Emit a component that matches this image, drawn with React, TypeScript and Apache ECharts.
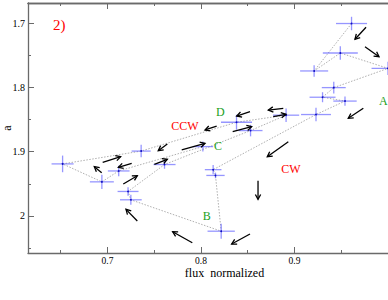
import React, { useEffect, useRef } from "react";
import * as echarts from "echarts";

// Measurements in time order (flux normalized, a) with error half-widths
const flux = [0.961, 0.921, 0.949, 1.0, 0.942, 0.93, 0.954, 0.923, 0.813, 0.8155, 0.8216, 0.725, 0.722, 0.761, 0.853, 0.891, 0.838, 0.736, 0.652, 0.694, 0.712, 0.802];
const aVal = [1.7, 1.774, 1.746, 1.77, 1.8, 1.815, 1.821, 1.842, 1.928, 1.937, 2.024, 1.975, 1.962, 1.92, 1.867, 1.843, 1.854, 1.899, 1.919, 1.947, 1.93, 1.892];
const fluxErr = [0.0166, 0.015, 0.0187, 0.0176, 0.0128, 0.0139, 0.0125, 0.016, 0.0089, 0.0098, 0.0146, 0.0116, 0.0112, 0.0118, 0.0128, 0.014, 0.0166, 0.0102, 0.0118, 0.0128, 0.0116, 0.011];
const aErr = [0.0105, 0.009, 0.0105, 0.0105, 0.009, 0.0078, 0.0073, 0.0105, 0.0073, 0.0044, 0.0117, 0.0078, 0.0066, 0.0066, 0.009, 0.0105, 0.0117, 0.0098, 0.013, 0.0112, 0.0083, 0.0078];

// Direction arrows (tail -> head)
const arrowX0 = [0.9765, 0.9754, 0.9736, 0.8934, 0.861, 0.8524, 0.7907, 0.7319, 0.7169, 0.7501, 0.6938, 0.6949, 0.7259, 0.764, 0.7794, 0.8524, 0.8168, 0.8339, 0.888, 0.8773];
const arrowY0 = [1.7059, 1.7362, 1.8323, 1.8844, 1.9452, 2.0284, 2.042, 2.0081, 1.9504, 1.9197, 1.9328, 1.9165, 1.9181, 1.888, 1.8973, 1.8376, 1.8599, 1.8688, 1.8323, 1.8454];
const arrowX1 = [0.9647, 0.9904, 0.9575, 0.8709, 0.861, 0.8328, 0.7697, 0.7198, 0.7319, 0.764, 0.6859, 0.7141, 0.7116, 0.7543, 0.8043, 0.8382, 0.8043, 0.8542, 0.872, 0.8909];
const arrowY1 = [1.7246, 1.7518, 1.8479, 1.9078, 1.9743, 2.044, 2.0248, 1.9899, 1.9374, 1.9119, 1.9234, 1.9078, 1.9243, 1.8984, 1.8869, 1.8443, 1.8661, 1.861, 1.835, 1.8417];

// Text annotations
const labelText = ["2)", "CCW", "CW", "D", "C", "B", "A"];
const labelX = [0.6484, 0.7829, 0.8963, 0.8206, 0.8182, 0.8061, 0.995];
const labelY = [1.702, 1.8591, 1.9265, 1.8381, 1.8914, 2.0003, 1.8209];
const labelColor = ["#ff0000", "#ff0000", "#ff0000", "#22a022", "#22a022", "#22a022", "#22a022"];
const labelSize = [15, 12, 12, 12, 12, 12, 12];

// Axes
const xMin = 0.615;
const xMax = 1.0;
const yMin = 1.668;
const yMax = 2.058;
const xMajorTicks = [0.7, 0.8, 0.9];
const xMinorTicks = [0.65, 0.75, 0.85, 0.95];
const yMajorTicks = [1.7, 1.8, 1.9, 2];
const yMinorTicks = [1.75, 1.85, 1.95, 2.05];

const FONT = "'Liberation Serif', 'DejaVu Serif', serif";
const AXIS_COLOR = "#6a6a6a";

export default function App() {
  const ref = useRef<HTMLDivElement>(null);

  useEffect(() => {
    if (!ref.current) return;
    const chart = echarts.init(ref.current, null, { renderer: "svg" });

    const points = flux.map((x, i) => [x, aVal[i], fluxErr[i], aErr[i]]);
    const pathData = flux.map((x, i) => [x, aVal[i]]);
    const arrows = arrowX0.map((x, i) => [x, arrowY0[i], arrowX1[i], arrowY1[i]]);
    const labels = labelText.map((_, i) => [labelX[i], labelY[i], i]);

    const mkX = (position: "top" | "bottom", ticks: number[], len: number, main: boolean) => ({
      type: "value",
      position,
      min: xMin,
      max: xMax,
      scale: true,
      name: main ? "flux  normalized" : "",
      nameLocation: "middle",
      nameGap: 14,
      nameMoveOverlap: false,
      nameTextStyle: { fontFamily: FONT, fontSize: 12, lineHeight: 12, color: "#000", padding: [0, 0, 0, 33] },
      axisLine: { show: main || position === "top", onZero: false, lineStyle: { color: AXIS_COLOR, width: 1.3 } },
      axisTick: { show: true, inside: true, length: len, customValues: ticks, lineStyle: { color: AXIS_COLOR, width: 1 } },
      axisLabel: {
        show: main,
        customValues: xMajorTicks,
        margin: 3,
        fontFamily: FONT,
        fontSize: 9.5,
        lineHeight: 10,
        color: "#000",
      },
      splitLine: { show: false },
    });

    const mkY = (ticks: number[], len: number, main: boolean) => ({
      type: "value",
      position: "left",
      inverse: true,
      min: yMin,
      max: yMax,
      scale: true,
      name: main ? "a" : "",
      nameLocation: "middle",
      nameGap: 15,
      nameMoveOverlap: false,
      nameTextStyle: { fontFamily: FONT, fontSize: 12, color: "#000" },
      axisLine: { show: main, onZero: false, lineStyle: { color: AXIS_COLOR, width: 1.3 } },
      axisTick: { show: true, inside: true, length: len, customValues: ticks, lineStyle: { color: AXIS_COLOR, width: 1 } },
      axisLabel: {
        show: main,
        customValues: yMajorTicks,
        margin: 3,
        fontFamily: FONT,
        fontSize: 10,
        color: "#000",
        formatter: (v: number) => String(Math.round(v * 100) / 100),
      },
      splitLine: { show: false },
    });

    chart.setOption({
      animation: false,
      grid: { left: 28, right: 0, top: 3, bottom: 47, containLabel: false, outerBoundsMode: "none" },
      xAxis: [
        mkX("bottom", xMajorTicks, 6, true),
        mkX("bottom", xMinorTicks, 3, false),
        mkX("top", xMajorTicks, 6, false),
        mkX("top", xMinorTicks, 3, false),
      ],
      yAxis: [mkY(yMajorTicks, 6, true), mkY(yMinorTicks, 3, false)],
      series: [
        {
          type: "line",
          data: pathData,
          symbol: "none",
          lineStyle: { color: "#9a9a9a", width: 0.8, type: [1.5, 1.5] },
          z: 1,
        },
        {
          type: "custom",
          data: points,
          encode: { x: 0, y: 1 },
          z: 2,
          renderItem: (_params: any, api: any) => {
            const x = api.value(0);
            const y = api.value(1);
            const xe = api.value(2);
            const ye = api.value(3);
            const l = api.coord([x - xe, y]);
            const r = api.coord([x + xe, y]);
            const t = api.coord([x, y - ye]);
            const b = api.coord([x, y + ye]);
            const c = api.coord([x, y]);
            const st = { stroke: "rgba(80,80,255,0.6)", lineWidth: 1.3 };
            return {
              type: "group",
              children: [
                { type: "line", shape: { x1: l[0], y1: l[1], x2: r[0], y2: r[1] }, style: st },
                { type: "line", shape: { x1: t[0], y1: t[1], x2: b[0], y2: b[1] }, style: st },
                { type: "circle", shape: { cx: c[0], cy: c[1], r: 0.9 }, style: { fill: "#1010c0" } },
              ],
            };
          },
        },
        {
          type: "custom",
          data: arrows,
          encode: { x: [0, 2], y: [1, 3] },
          z: 3,
          renderItem: (_params: any, api: any) => {
            const p0 = api.coord([api.value(0), api.value(1)]);
            const p1 = api.coord([api.value(2), api.value(3)]);
            const ang = Math.atan2(p1[1] - p0[1], p1[0] - p0[0]);
            const hl = 5.5;
            const spread = 0.5;
            const h1 = [p1[0] - hl * Math.cos(ang - spread), p1[1] - hl * Math.sin(ang - spread)];
            const h2 = [p1[0] - hl * Math.cos(ang + spread), p1[1] - hl * Math.sin(ang + spread)];
            const st = { stroke: "#000", lineWidth: 1.3, fill: "none" };
            return {
              type: "group",
              children: [
                { type: "line", shape: { x1: p0[0], y1: p0[1], x2: p1[0], y2: p1[1] }, style: st },
                { type: "polyline", shape: { points: [h1, p1, h2] }, style: st },
              ],
            };
          },
        },
        {
          type: "custom",
          data: labels,
          encode: { x: 0, y: 1 },
          z: 4,
          clip: false,
          renderItem: (_params: any, api: any) => {
            const i = api.value(2);
            const p = api.coord([api.value(0), api.value(1)]);
            return {
              type: "text",
              x: p[0],
              y: p[1],
              style: {
                text: labelText[i],
                fill: labelColor[i],
                fontFamily: FONT,
                fontSize: labelSize[i],
                align: "center",
                verticalAlign: "middle",
              },
            };
          },
        },
      ],
    });

    return () => chart.dispose();
  }, []);

  return (
    <div
      ref={ref}
      style={{ position: "fixed", left: 0, top: 0, width: 388, height: 300, background: "#fff" }}
    />
  );
}
